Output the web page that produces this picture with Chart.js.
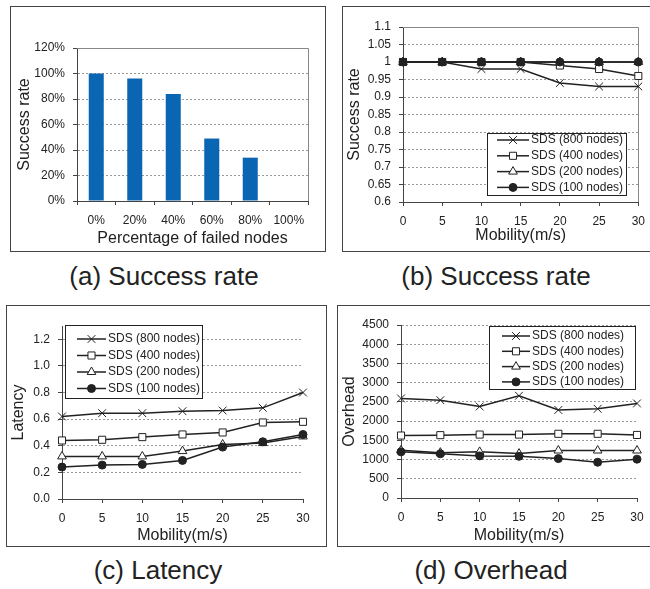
<!DOCTYPE html>
<html>
<head>
<meta charset="utf-8">
<script src="https://cdn.jsdelivr.net/npm/chart.js@4/dist/chart.umd.min.js"></script>
<style>
  html, body { margin: 0; padding: 0; background: #fff; overflow: hidden; }
  body { width: 650px; height: 589px; position: relative; font-family: "Liberation Sans", Arial, sans-serif; }
  .box { position: absolute; border: 1px solid #444; box-sizing: border-box; }
  .box canvas { position: absolute; left: 0; top: 0; }
  .cap { position: absolute; width: 300px; text-align: center; font-size: 26px; line-height: 26px; color: #222; }
</style>
</head>
<body>
<div class="box" style="left:10px;top:6px;width:316px;height:246px"><canvas id="ca" width="314" height="244"></canvas></div>
<div class="box" style="left:342px;top:6px;width:312px;height:246px"><canvas id="cb" width="310" height="244"></canvas></div>
<div class="box" style="left:6px;top:305px;width:321px;height:242px"><canvas id="cc" width="319" height="240"></canvas></div>
<div class="box" style="left:337px;top:305px;width:320px;height:242px"><canvas id="cd" width="318" height="240"></canvas></div>
<div class="cap" style="left:14px;top:263px">(a) Success rate</div>
<div class="cap" style="left:346px;top:263px">(b) Success rate</div>
<div class="cap" style="left:8px;top:557px">(c) Latency</div>
<div class="cap" style="left:341px;top:557px">(d) Overhead</div>
<script>
// data
const failLabels = ['0%', '20%', '40%', '60%', '80%', '100%'];
const failSuccess = [100, 96, 84, 49, 34, 0];

const mobility = ['0', '5', '10', '15', '20', '25', '30'];
const seriesNames = ['SDS (800 nodes)', 'SDS (400 nodes)', 'SDS (200 nodes)', 'SDS (100 nodes)'];

const success800 = [1, 1, 0.98, 0.98, 0.94, 0.93, 0.93];
const success400 = [1, 1, 1, 1, 0.99, 0.98, 0.96];
const success200 = [1, 1, 1, 1, 1, 1, 1];
const success100 = [1, 1, 1, 1, 1, 1, 1];

const latency800 = [0.62, 0.645, 0.645, 0.66, 0.665, 0.685, 0.80];
const latency400 = [0.44, 0.445, 0.465, 0.485, 0.50, 0.575, 0.58];
const latency200 = [0.32, 0.32, 0.32, 0.36, 0.41, 0.42, 0.47];
const latency100 = [0.24, 0.255, 0.26, 0.29, 0.39, 0.43, 0.485];

const overhead800 = [2590, 2545, 2380, 2660, 2290, 2320, 2460];
const overhead400 = [1625, 1635, 1650, 1650, 1670, 1670, 1640];
const overhead200 = [1240, 1180, 1200, 1155, 1235, 1235, 1235];
const overhead100 = [1200, 1150, 1095, 1085, 1025, 930, 1010];

Chart.defaults.font.family = '"Liberation Sans", Arial, sans-serif';
Chart.defaults.font.size = 12;
Chart.defaults.color = '#222';
Chart.defaults.animation = false;

const INK = '#222';
const AXIS = '#444';
const GRID = '#999';

const markers = [
    { pointStyle: 'crossRot', pointRadius: 5.5, pointBackgroundColor: '#fff' },
    { pointStyle: 'rect', pointRadius: 5, pointBackgroundColor: '#fff' },
    { pointStyle: 'triangle', pointRadius: 5, pointBackgroundColor: '#fff' },
    { pointStyle: 'circle', pointRadius: 4, pointBackgroundColor: INK }
];

function lineSets(values) {
    return values.map((v, i) => Object.assign({
        label: seriesNames[i],
        data: v,
        borderColor: INK,
        borderWidth: 1.5,
        pointBorderColor: INK,
        pointBorderWidth: 1,
        tension: 0,
        order: 3 - i
    }, markers[i]));
}

// legend with a line running through each marker
function lineLegend(box) {
    return {
        id: 'lineLegend',
        afterDatasetsDraw(chart) {
            const ctx = chart.ctx;
            ctx.save();
            ctx.fillStyle = '#fff';
            ctx.fillRect(box.x, box.y, box.w, box.h);
            ctx.strokeStyle = INK;
            ctx.lineWidth = 1;
            ctx.strokeRect(box.x + 0.5, box.y + 0.5, box.w, box.h);
            chart.data.datasets.forEach((ds, i) => {
                const y = box.row0 + i * box.rowH;
                const mx = (box.x1 + box.x2) / 2;
                ctx.strokeStyle = ds.borderColor;
                ctx.lineWidth = ds.borderWidth;
                ctx.beginPath();
                ctx.moveTo(box.x1, y);
                ctx.lineTo(box.x2, y);
                ctx.stroke();
                ctx.fillStyle = ds.pointBackgroundColor;
                ctx.strokeStyle = ds.pointBorderColor;
                ctx.lineWidth = 1;
                if (Chart.helpers && Chart.helpers.drawPoint) {
                    Chart.helpers.drawPoint(ctx, { pointStyle: ds.pointStyle, radius: ds.pointRadius, rotation: 0, borderWidth: 1 }, mx, y);
                }
                ctx.fillStyle = INK;
                ctx.font = '12px "Liberation Sans", Arial, sans-serif';
                ctx.textAlign = 'left';
                ctx.textBaseline = 'middle';
                ctx.fillText(ds.label, box.tx, y);
            });
            ctx.restore();
        }
    };
}

// grey top and right edges of the plot area
const plotFrame = {
    id: 'plotFrame',
    beforeDatasetsDraw(chart) {
        const a = chart.chartArea;
        const ctx = chart.ctx;
        ctx.save();
        ctx.strokeStyle = '#888';
        ctx.lineWidth = 1;
        ctx.beginPath();
        ctx.moveTo(a.left, Math.round(a.top) + 0.5);
        ctx.lineTo(Math.round(a.right) + 0.5, Math.round(a.top) + 0.5);
        ctx.lineTo(Math.round(a.right) + 0.5, a.bottom);
        ctx.stroke();
        ctx.restore();
    }
};

function xAxis(title, height, offset) {
    return {
        type: 'category',
        offset: offset,
        afterFit: s => { s.height = height; },
        grid: { drawOnChartArea: false, offset: offset, tickLength: 4, color: AXIS },
        border: { color: AXIS },
        ticks: { padding: 8, color: INK, autoSkip: false, maxRotation: 0 },
        title: { display: true, text: title, color: INK, font: { size: 16 }, padding: { top: 0, bottom: 0 } }
    };
}

function yAxis(title, width, titlePad, min, max, step, fmt, keep) {
    return {
        min: min, max: max,
        afterFit: s => { s.width = width; },
        afterBuildTicks: s => { if (keep) s.ticks = s.ticks.filter(t => keep(t.value)); },
        grid: { color: GRID, tickColor: AXIS, tickLength: 4, tickBorderDash: [] },
        border: { color: AXIS, dash: [2, 2] },
        ticks: { stepSize: step, padding: 8, color: INK, callback: fmt },
        title: { display: true, text: title, color: INK, font: { size: 16 }, padding: { top: titlePad, bottom: 0 } }
    };
}

// (a) success rate vs failed nodes
new Chart(document.getElementById('ca'), {
    type: 'bar',
    data: {
        labels: failLabels,
        datasets: [{ data: failSuccess, backgroundColor: '#0a66b2', barPercentage: 0.39, categoryPercentage: 1 }]
    },
    options: {
        responsive: false,
        layout: { padding: { left: 0, top: 41, right: 17, bottom: 3 } },
        plugins: { legend: { display: false }, tooltip: { enabled: false } },
        scales: {
            x: xAxis('Percentage of failed nodes', 47, true),
            y: yAxis('Success rate', 66, 4.4, 0, 120, 20, v => v + '%')
        }
    },
    plugins: [plotFrame]
});

// (b) success rate vs mobility
new Chart(document.getElementById('cb'), {
    type: 'line',
    data: { labels: mobility, datasets: lineSets([success800, success400, success200, success100]) },
    options: {
        responsive: false,
        layout: { padding: { left: 0, top: 20, right: 13, bottom: 6 } },
        plugins: { legend: { display: false }, tooltip: { enabled: false } },
        scales: {
            x: xAxis('Mobility(m/s)', 43, false),
            y: yAxis('Success rate', 60, 2.4, 0.6, 1.1, 0.05, v => String(+v.toFixed(2)))
        }
    },
    plugins: [plotFrame, lineLegend({ x: 144, y: 126, w: 139, h: 62, row0: 133, rowH: 15.8, x1: 154, x2: 186, tx: 188 })]
});

// (c) latency vs mobility
new Chart(document.getElementById('cc'), {
    type: 'line',
    data: { labels: mobility, datasets: lineSets([latency800, latency400, latency200, latency100]) },
    options: {
        responsive: false,
        layout: { padding: { left: 0, top: 20, right: 23, bottom: 1 } },
        plugins: { legend: { display: false }, tooltip: { enabled: false } },
        scales: {
            x: xAxis('Mobility(m/s)', 46, false),
            y: yAxis('Latency', 55, 2.4, 0, 1.3, 0.2, v => v.toFixed(1), v => v < 1.25)
        }
    },
    plugins: [lineLegend({ x: 58, y: 19, w: 137, h: 73, row0: 33, rowH: 16.5, x1: 70, x2: 99, tx: 101 })]
});

// (d) overhead vs mobility
new Chart(document.getElementById('cd'), {
    type: 'line',
    data: { labels: mobility, datasets: lineSets([overhead800, overhead400, overhead200, overhead100]) },
    options: {
        responsive: false,
        layout: { padding: { left: 0, top: 19, right: 19, bottom: 1 } },
        plugins: { legend: { display: false }, tooltip: { enabled: false } },
        scales: {
            x: xAxis('Mobility(m/s)', 47, false),
            y: yAxis('Overhead', 63, 2.4, 0, 4500, 500, v => String(v))
        }
    },
    plugins: [lineLegend({ x: 151, y: 20, w: 146, h: 63, row0: 30, rowH: 15.3, x1: 164, x2: 192, tx: 194 })]
});
</script>
</body>
</html>
